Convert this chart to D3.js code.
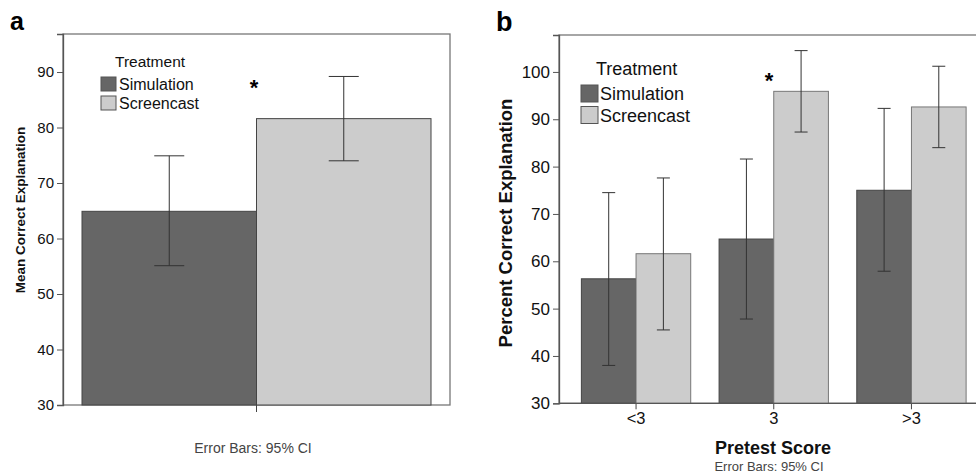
<!DOCTYPE html>
<html>
<head>
<meta charset="utf-8">
<script src="https://cdn.jsdelivr.net/npm/d3@7"></script>
<style>
  body { margin: 0; background: #fff; }
  svg { font-family: "Liberation Sans", Arial, sans-serif; }
</style>
</head>
<body>
<div id="chart"></div>
<script>
const svgWidth = 976;
const svgHeight = 473;

// panel a data
const treatments = ["Simulation", "Screencast"];
const meanA = [64.9, 81.6];
const lowA = [55.1, 74.0];
const highA = [74.9, 89.2];

// panel b data
const pretest = ["<3", "3", ">3"];
const simMean = [56.3, 64.7, 75.0];
const simLow = [38.0, 47.8, 57.9];
const simHigh = [74.5, 81.6, 92.3];
const scrMean = [61.6, 95.9, 92.6];
const scrLow = [45.5, 87.3, 84.0];
const scrHigh = [77.6, 104.5, 101.2];

const ticksA = [30, 40, 50, 60, 70, 80, 90];
const ticksB = [30, 40, 50, 60, 70, 80, 90, 100];

const fills = { Simulation: "#666666", Screencast: "#cccccc" };

const svg = d3.select("#chart")
  .append("svg")
  .attr("width", svgWidth)
  .attr("height", svgHeight);

// ---------- panel a ----------
const ya = d3.scaleLinear().domain([30, 96.85]).range([405, 34]);
const xa = d3.scaleBand().domain(treatments).range([82, 431]).padding(0);

const gA = svg.append("g");

gA.append("rect")
  .attr("x", 63).attr("y", 34)
  .attr("width", 387).attr("height", 371)
  .attr("fill", "none").attr("stroke", "#777").attr("stroke-width", 1.3);

gA.selectAll("rect.bar")
  .data(treatments)
  .enter()
  .append("rect")
  .attr("class", "bar")
  .attr("x", d => xa(d))
  .attr("y", (d, i) => ya(meanA[i]))
  .attr("width", xa.bandwidth())
  .attr("height", (d, i) => ya(30) - ya(meanA[i]))
  .attr("fill", d => fills[d])
  .attr("stroke", "#444")
  .attr("stroke-width", 1);

// error bars a
treatments.forEach(function(t, i) {
  const cx = xa(t) + xa.bandwidth() / 2;
  gA.append("line").attr("x1", cx).attr("x2", cx)
    .attr("y1", ya(lowA[i])).attr("y2", ya(highA[i]))
    .attr("stroke", "#333").attr("stroke-width", 1);
  [lowA[i], highA[i]].forEach(function(v) {
    gA.append("line").attr("x1", cx - 15).attr("x2", cx + 15)
      .attr("y1", ya(v)).attr("y2", ya(v))
      .attr("stroke", "#333").attr("stroke-width", 1);
  });
});

const leftA = d3.axisLeft(ya).tickValues(ticksA).tickSize(6).tickPadding(3);
gA.append("g")
  .attr("transform", "translate(63,0)")
  .call(leftA)
  .call(g => g.select(".domain").attr("stroke", "#555").attr("stroke-width", 1.3))
  .call(g => g.selectAll(".tick line").attr("stroke", "#555"))
  .call(g => g.selectAll("text").attr("font-size", "15px").attr("fill", "#111")
    .attr("font-family", "Liberation Sans, Arial, sans-serif"));

// x axis tick a
gA.append("line")
  .attr("x1", 256.5).attr("x2", 256.5).attr("y1", 405).attr("y2", 412)
  .attr("stroke", "#444").attr("stroke-width", 1);

gA.append("text")
  .attr("transform", "translate(25,210) rotate(-90)")
  .attr("text-anchor", "middle")
  .attr("font-size", "13.5px").attr("font-weight", "bold")
  .attr("fill", "#111")
  .text("Mean Correct Explanation");

gA.append("text")
  .attr("x", 253).attr("y", 453)
  .attr("text-anchor", "middle")
  .attr("font-size", "14px").attr("fill", "#444")
  .text("Error Bars: 95% CI");

gA.append("text")
  .attr("x", 10).attr("y", 30)
  .attr("font-size", "25px").attr("font-weight", "bold")
  .text("a");

gA.append("text")
  .attr("x", 254).attr("y", 95)
  .attr("text-anchor", "middle")
  .attr("font-size", "22px").attr("font-weight", "bold")
  .text("*");

// legend a
gA.append("text").attr("x", 115).attr("y", 67)
  .attr("font-size", "15.5px").attr("fill", "#111").text("Treatment");
treatments.forEach(function(t, i) {
  gA.append("rect")
    .attr("x", 101).attr("y", 77 + i * 19)
    .attr("width", 15).attr("height", 14)
    .attr("fill", fills[t]).attr("stroke", "#555");
  gA.append("text").attr("x", 119).attr("y", 90 + i * 19)
    .attr("font-size", "16px").attr("fill", "#111").text(t);
});

// ---------- panel b ----------
const yb = d3.scaleLinear().domain([30, 107.8]).range([403.3, 35]);
const xb = d3.scaleBand().domain(pretest).range([567.2, 980.3])
  .paddingInner(0.206).paddingOuter(0.103);
const xSub = d3.scaleBand().domain(treatments).range([0, xb.bandwidth()]);

const gB = svg.append("g");

gB.append("rect")
  .attr("x", 559).attr("y", 35)
  .attr("width", 440).attr("height", 368.3)
  .attr("fill", "none").attr("stroke", "#777").attr("stroke-width", 1.3);

const rowsB = [];
pretest.forEach(function(p, i) {
  rowsB.push({ cat: p, t: "Simulation", mean: simMean[i], low: simLow[i], high: simHigh[i] });
  rowsB.push({ cat: p, t: "Screencast", mean: scrMean[i], low: scrLow[i], high: scrHigh[i] });
});

gB.selectAll("rect.bar")
  .data(rowsB)
  .enter()
  .append("rect")
  .attr("class", "bar")
  .attr("x", d => xb(d.cat) + xSub(d.t))
  .attr("y", d => yb(d.mean))
  .attr("width", xSub.bandwidth())
  .attr("height", d => yb(30) - yb(d.mean))
  .attr("fill", d => fills[d.t])
  .attr("stroke", d => d.t === "Simulation" ? "#444" : "#777")
  .attr("stroke-width", 1);

rowsB.forEach(function(d) {
  const cx = xb(d.cat) + xSub(d.t) + xSub.bandwidth() / 2;
  gB.append("line").attr("x1", cx).attr("x2", cx)
    .attr("y1", yb(d.low)).attr("y2", yb(d.high))
    .attr("stroke", "#333").attr("stroke-width", 1);
  [d.low, d.high].forEach(function(v) {
    gB.append("line").attr("x1", cx - 6.5).attr("x2", cx + 6.5)
      .attr("y1", yb(v)).attr("y2", yb(v))
      .attr("stroke", "#333").attr("stroke-width", 1);
  });
});

const leftB = d3.axisLeft(yb).tickValues(ticksB).tickSize(6).tickPadding(3);
gB.append("g")
  .attr("transform", "translate(559,0)")
  .call(leftB)
  .call(g => g.select(".domain").attr("stroke", "#555").attr("stroke-width", 1.3))
  .call(g => g.selectAll(".tick line").attr("stroke", "#555"))
  .call(g => g.selectAll("text").attr("font-size", "17px").attr("fill", "#111")
    .attr("font-family", "Liberation Sans, Arial, sans-serif"));

const bottomB = d3.axisBottom(xb).tickSize(6).tickPadding(3).tickSizeOuter(0);
gB.append("g")
  .attr("transform", "translate(0,403.3)")
  .call(bottomB)
  .call(g => g.select(".domain").remove())
  .call(g => g.selectAll(".tick line").attr("stroke", "#444"))
  .call(g => g.selectAll("text").attr("font-size", "16.5px").attr("fill", "#111")
    .attr("font-family", "Liberation Sans, Arial, sans-serif"));

gB.append("line")
  .attr("x1", 559).attr("x2", 976).attr("y1", 403.3).attr("y2", 403.3)
  .attr("stroke", "#555").attr("stroke-width", 1.3);

gB.append("text")
  .attr("transform", "translate(512,223) rotate(-90)")
  .attr("text-anchor", "middle")
  .attr("font-size", "18.5px").attr("font-weight", "bold")
  .attr("fill", "#111")
  .text("Percent Correct Explanation");

gB.append("text")
  .attr("x", 773).attr("y", 454)
  .attr("text-anchor", "middle")
  .attr("font-size", "18px").attr("font-weight", "bold")
  .attr("fill", "#111")
  .text("Pretest Score");

gB.append("text")
  .attr("x", 769).attr("y", 471)
  .attr("text-anchor", "middle")
  .attr("font-size", "13px").attr("fill", "#444")
  .text("Error Bars: 95% CI");

gB.append("text")
  .attr("x", 496).attr("y", 31)
  .attr("font-size", "27px").attr("font-weight", "bold")
  .text("b");

gB.append("text")
  .attr("x", 769).attr("y", 88)
  .attr("text-anchor", "middle")
  .attr("font-size", "22px").attr("font-weight", "bold")
  .text("*");

// legend b
gB.append("text").attr("x", 596).attr("y", 75)
  .attr("font-size", "18px").attr("fill", "#111").text("Treatment");
treatments.forEach(function(t, i) {
  gB.append("rect")
    .attr("x", 581).attr("y", 85 + i * 21.5)
    .attr("width", 17).attr("height", 17)
    .attr("fill", fills[t]).attr("stroke", "#555");
  gB.append("text").attr("x", 600).attr("y", 100 + i * 21.5)
    .attr("font-size", "18px").attr("fill", "#111").text(t);
});
</script>
</body>
</html>
